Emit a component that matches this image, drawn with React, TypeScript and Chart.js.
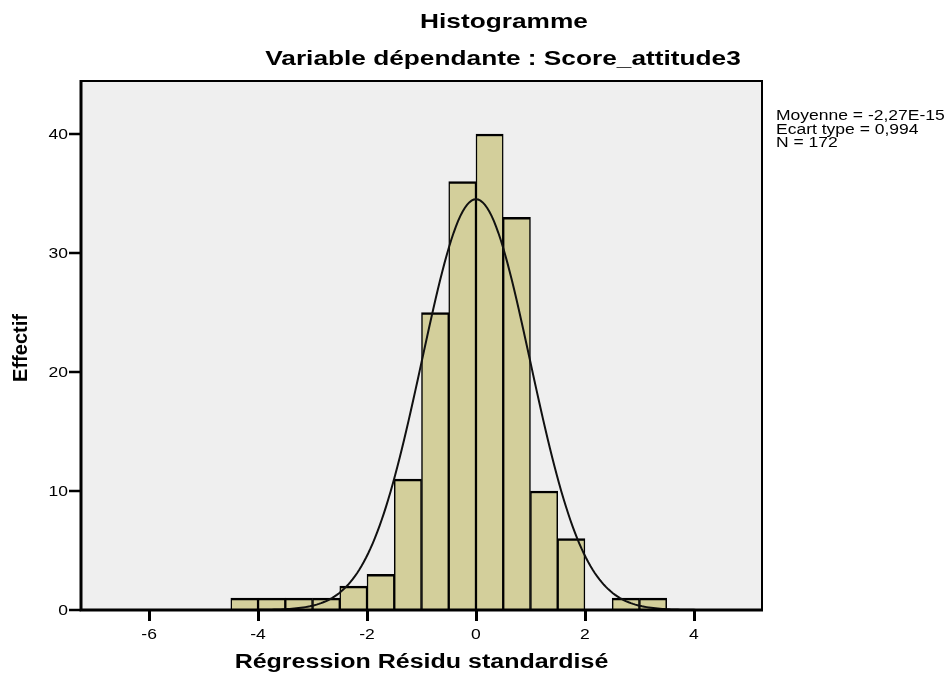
import React, { useEffect, useRef } from "react";
import { Chart, registerables } from "chart.js";

Chart.register(...registerables);

// ---- data ----
const binCenters = [-4.25, -3.75, -3.25, -2.75, -2.25, -1.75, -1.25, -0.75, -0.25, 0.25, 0.75, 1.25, 1.75, 2.25, 2.75, 3.25];
const binCounts = [1, 1, 1, 1, 2, 3, 11, 25, 36, 40, 33, 10, 6, 0, 1, 1];
const binWidth = 0.5;
const xTickValues = [-6, -4, -2, 0, 2, 4];

// fitted normal curve parameters (from the legend text)
const meanValue = -2.27e-15;
const sdValue = 0.994;
const nValue = 172;
const curveFrom = -4.12;
const curveTo = 4.12;

const statsLines = ["Moyenne = -2,27E-15", "Ecart type = 0,994", "N = 172"];
const titleText = "Histogramme";
const subtitleText = "Variable dépendante : Score_attitude3";
const xTitle = "Régression Résidu standardisé";
const yTitle = "Effectif";

const FONT = "'Liberation Sans', Arial, sans-serif";
const SX = 1.25; // horizontal stretch of the reference's text

function normalCurve() {
  const pts: { x: number; y: number }[] = [];
  const steps = 200;
  for (let i = 0; i <= steps; i++) {
    const x = curveFrom + ((curveTo - curveFrom) * i) / steps;
    const z = (x - meanValue) / sdValue;
    const y = (nValue * binWidth) / (sdValue * Math.sqrt(2 * Math.PI)) * Math.exp(-0.5 * z * z);
    pts.push({ x, y });
  }
  return pts;
}

function drawStretched(
  ctx: CanvasRenderingContext2D,
  text: string,
  x: number,
  y: number,
  font: string,
  align: "left" | "center" | "right",
  sx: number
) {
  ctx.save();
  ctx.font = font;
  ctx.fillStyle = "#000";
  const w = ctx.measureText(text).width * sx;
  const left = align === "center" ? x - w / 2 : align === "right" ? x - w : x;
  ctx.translate(left, y);
  ctx.scale(sx, 1);
  ctx.textAlign = "left";
  ctx.textBaseline = "alphabetic";
  ctx.fillText(text, 0, 0);
  ctx.restore();
}

const decorPlugin = {
  id: "decor",
  beforeDraw(chart: any) {
    const { ctx, chartArea: a } = chart;
    ctx.save();
    ctx.fillStyle = "#efefef";
    ctx.fillRect(a.left, a.top, a.right - a.left, a.bottom - a.top);
    ctx.restore();
  },
  afterDraw(chart: any) {
    const { ctx, chartArea: a } = chart;
    const xs = chart.scales.x;
    const ys = chart.scales.y;
    ctx.save();
    ctx.strokeStyle = "#000";
    // top & right frame
    ctx.lineWidth = 2;
    ctx.beginPath();
    ctx.moveTo(a.left, a.top);
    ctx.lineTo(a.right, a.top);
    ctx.lineTo(a.right, a.bottom);
    ctx.stroke();
    // axes
    ctx.lineWidth = 3;
    ctx.beginPath();
    ctx.moveTo(a.left, a.top - 1);
    ctx.lineTo(a.left, a.bottom);
    ctx.lineTo(a.right + 1, a.bottom);
    ctx.stroke();

    // x tick marks
    ctx.lineWidth = 3;
    ctx.lineCap = "butt";
    ctx.beginPath();
    for (const v of xTickValues) {
      const px = Math.round(xs.getPixelForValue(v)) + 0.5;
      ctx.moveTo(px, a.bottom);
      ctx.lineTo(px, a.bottom + 11);
    }
    ctx.stroke();
    // y tick marks
    ctx.lineWidth = 2.5;
    ctx.beginPath();
    for (const t of ys.ticks) {
      const py = Math.round(ys.getPixelForValue(t.value));
      ctx.moveTo(a.left, py);
      ctx.lineTo(a.left - 12, py);
    }
    ctx.stroke();
    ctx.restore();

    const tickFont = `14px ${FONT}`;
    for (const v of xTickValues) {
      const px = xs.getPixelForValue(v);
      drawStretched(ctx, String(v), px, 639, tickFont, "center", SX);
    }
    ys.ticks.forEach((t: any) => {
      const py = ys.getPixelForValue(t.value);
      drawStretched(ctx, String(t.value), 68, py + 5, tickFont, "right", SX);
    });

    drawStretched(ctx, titleText, 504, 28, `bold 21px ${FONT}`, "center", SX);
    drawStretched(ctx, subtitleText, 503, 65, `bold 21px ${FONT}`, "center", SX);
    drawStretched(ctx, xTitle, (a.left + a.right) / 2, 668, `bold 20px ${FONT}`, "center", SX);

    ctx.save();
    ctx.translate(27, 348);
    ctx.rotate(-Math.PI / 2);
    ctx.font = `bold 20px ${FONT}`;
    ctx.fillStyle = "#000";
    ctx.textAlign = "center";
    ctx.textBaseline = "alphabetic";
    ctx.fillText(yTitle, 0, 0);
    ctx.restore();

    statsLines.forEach((s, i) => {
      drawStretched(ctx, s, 776, 120 + i * 13.5, `14px ${FONT}`, "left", SX);
    });
  },
};

export default function App() {
  const ref = useRef<HTMLCanvasElement | null>(null);
  useEffect(() => {
    if (!ref.current) return;
    const chart = new Chart(ref.current, {
      type: "bar",
      data: {
        datasets: [
          {
            type: "line",
            data: normalCurve(),
            borderColor: "#111",
            borderWidth: 2,
            pointRadius: 0,
            tension: 0,
            fill: false,
            order: 0,
          } as any,
          {
            type: "bar",
            data: binCenters.map((x, i) => ({ x, y: binCounts[i] })),
            backgroundColor: "#d3cf9b",
            borderColor: "#000",
            borderWidth: { top: 2.5, left: 1.5, right: 1.5, bottom: 0 },
            borderSkipped: false,
            barPercentage: 1,
            categoryPercentage: 1,
            order: 1,
          } as any,
        ],
      },
      options: {
        responsive: false,
        animation: false,
        layout: { padding: { top: 81, right: 185, left: 0, bottom: 0 } },
        plugins: { legend: { display: false }, tooltip: { enabled: false }, title: { display: false } },
        scales: {
          x: {
            type: "linear",
            min: -7.25,
            max: 5.25,
            offset: false,
            ticks: { stepSize: 2, includeBounds: false, display: false },
            grid: { display: false },
            border: { display: false },
            afterFit: (s: any) => {
              s.height = 65;
            },
          },
          y: {
            type: "linear",
            min: 0,
            max: 44.45,
            ticks: { stepSize: 10, includeBounds: false, display: false },
            grid: { display: false },
            border: { display: false },
            afterFit: (s: any) => {
              s.width = 81;
            },
          },
        },
      } as any,
      plugins: [decorPlugin],
    });
    return () => chart.destroy();
  }, []);
  return (
    <div style={{ position: "fixed", left: 0, top: 0, width: 947, height: 675, background: "#fff" }}>
      <canvas ref={ref} width={947} height={675} />
    </div>
  );
}
